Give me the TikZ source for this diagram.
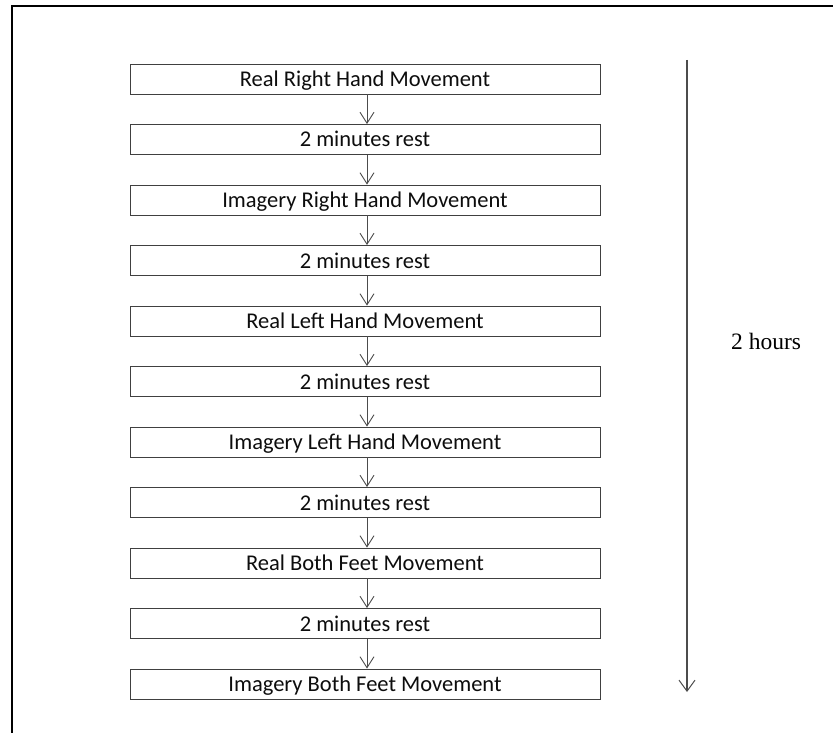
\documentclass[tikz,border=0pt]{standalone}
\usepackage{fontspec}
\setmainfont{Carlito}
\newfontfamily\serifface{Liberation Serif}
\usetikzlibrary{arrows.meta}
\begin{document}
\begin{tikzpicture}[x=1pt,y=-1pt,
  stepbox/.style={draw=black!75, line width=0.9pt, minimum width=470pt, minimum height=30pt,
    inner sep=0pt, text height=17pt, text depth=2pt,
    font=\fontsize{22.5}{24}\selectfont, text=black!95},
  flow/.style={draw=black!70, line width=0.9pt, -{Straight Barb[length=11pt,width=14pt,line width=0.9pt]}},
  span/.style={draw=black!70, line width=1.1pt, -{Straight Barb[length=11pt,width=16pt,line width=1pt]}}]
\useasboundingbox (0,0) rectangle (833,733);
\fill[white] (0,0) rectangle (833,733);
% outer frame (runs off the right and bottom edges)
\draw[line width=2pt, black] (11.5,740) -- (11.5,6) -- (840,6);
% the sequence of sessions
\foreach \i/\t in {0/Real Right Hand Movement, 1/2 minutes rest, 2/Imagery Right Hand Movement,
  3/2 minutes rest, 4/Real Left Hand Movement, 5/2 minutes rest, 6/Imagery Left Hand Movement,
  7/2 minutes rest, 8/Real Both Feet Movement, 9/2 minutes rest, 10/Imagery Both Feet Movement}
  \node[stepbox] (b\i) at (365,{79+60.5*\i}) {\t};
\foreach \i [evaluate=\i as \j using int(\i+1)] in {0,...,9}
  \draw[flow] ([xshift=2pt]b\i.south) -- ([xshift=2pt]b\j.north);
% overall duration
\coordinate (ts) at (687,60);
\coordinate (te) at (687,692);
\draw[span] (ts) -- (te);
\node[font=\serifface\fontsize{23.5}{25}\selectfont, anchor=west, inner sep=0pt] (dur) at (731,341) {2 hours};
\end{tikzpicture}
\end{document}
